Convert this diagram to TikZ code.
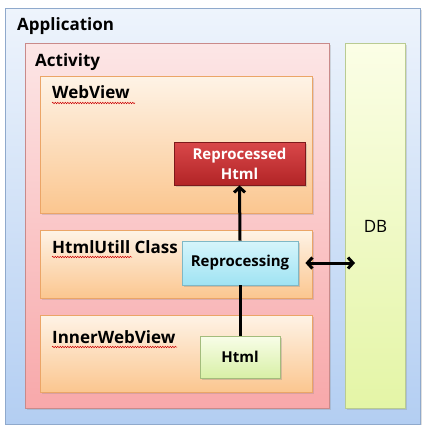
\documentclass[tikz,border=0pt]{standalone}
\usepackage{fontspec}
\setmainfont{Open Sans}
\usetikzlibrary{arrows.meta,decorations.pathmorphing,shadows}

\definecolor{apptop}{HTML}{EEF4FC}
\definecolor{appbot}{HTML}{B3CEF2}
\definecolor{appline}{HTML}{8FA9CC}
\definecolor{acttop}{HTML}{FCE6E6}
\definecolor{actbot}{HTML}{F8A8AA}
\definecolor{actline}{HTML}{C98A8A}
\definecolor{viewtop}{HTML}{FEF3E6}
\definecolor{viewbot}{HTML}{FBC68F}
\definecolor{viewline}{HTML}{EBA567}
\definecolor{dbtop}{HTML}{FBFEE6}
\definecolor{dbbot}{HTML}{E4F5A6}
\definecolor{dbline}{HTML}{B9CB92}
\definecolor{redtop}{HTML}{D9484A}
\definecolor{redbot}{HTML}{B22426}
\definecolor{cyantop}{HTML}{D6F5FB}
\definecolor{cyanbot}{HTML}{9FE3F3}
\definecolor{cyanline}{HTML}{7FB8C6}
\definecolor{greentop}{HTML}{F8FDE8}
\definecolor{greenbot}{HTML}{D8F0A6}
\definecolor{greenline}{HTML}{A3BC7C}

\begin{document}
\begin{tikzpicture}[x=1pt,y=-1pt,
  panel/.style 2 args={draw=#1, line width=0.8pt, top color=#2top, bottom color=#2bot,
    anchor=north west, inner sep=0pt,
    drop shadow={opacity=0.25, shadow xshift=1.5pt, shadow yshift=-1.5pt}},
  title/.style={anchor=base west, inner sep=0pt, font=\fontsize{17}{20}\selectfont\bfseries},
  item/.style={draw=#1, line width=0.8pt, inner sep=0pt, align=center,
    font=\fontsize{15}{20}\selectfont\bfseries,
    drop shadow={opacity=0.3, shadow xshift=1.5pt, shadow yshift=-1.5pt}},
  squiggle/.style={red!80!black, line width=0.5pt,
    decorate, decoration={snake, amplitude=0.7pt, segment length=2.5pt}},
  flow/.style={line width=3pt, -{Straight Barb[length=5pt,width=11pt]}}]

\useasboundingbox (0,0) rectangle (421,425);
\fill[white] (0,0) rectangle (421,425);

% containers
\node (app) [panel={appline}{app}, minimum width=415pt, minimum height=416pt] at (5,8) {};
\node (activity) [panel={actline}{act}, minimum width=304pt, minimum height=365pt] at (25,43) {};
\node (db) [panel={dbline}{db}, minimum width=60pt, minimum height=365pt] at (345,43) {};
\node (webview) [panel={viewline}{view}, minimum width=272pt, minimum height=137pt] at (40,76) {};
\node (htmlutil) [panel={viewline}{view}, minimum width=272pt, minimum height=68pt] at (40,230) {};
\node (inner) [panel={viewline}{view}, minimum width=272pt, minimum height=77pt] at (40,315) {};

% titles
\node (applbl) [title] at (17,31) {Application};
\node (actlbl) [title] at (35,67) {Activity};
\node (weblbl) [title] at (52,99) {WebView};
\node (utillbl) [title] at (52,253) {HtmlUtill Class};
\node (innerlbl) [title] at (52,343) {InnerWebView};
\node (dblbl) [anchor=base, inner sep=0pt, font=\fontsize{17}{20}\selectfont] at (375.5,232) {DB};

\draw[squiggle] (weblbl.base west) ++(0,4) -- ++(83,0);
\draw[squiggle] (utillbl.base west) ++(0,4) -- ++(80,0);
\draw[squiggle] (innerlbl.base west) ++(0,4) -- ++(125,0);

% html items
\node (rehtml) [item=redbot!70!black, top color=redtop, bottom color=redbot, text=white,
  minimum width=131pt, minimum height=43pt, text width=125pt] at (239.5,163.5)
  {Reprocessed\\Html};
\node (repro) [item=cyanline, top color=cyantop, bottom color=cyanbot,
  minimum width=116pt, minimum height=44pt] at (240,263) {Reprocessing};
\node (html) [item=greenline, top color=greentop, bottom color=greenbot,
  minimum width=80pt, minimum height=42pt] at (240,357) {Html};

% arrows
\draw[line width=3pt] (html.north) -- (repro.south);
\draw[flow] (repro.north) -- (rehtml.south);
\draw[line width=3pt, {Straight Barb[length=5pt,width=11pt]}-{Straight Barb[length=5pt,width=11pt]}]
  ([xshift=7pt]repro.east) -- ([xshift=10pt]db.west |- repro.east);

\end{tikzpicture}
\end{document}
